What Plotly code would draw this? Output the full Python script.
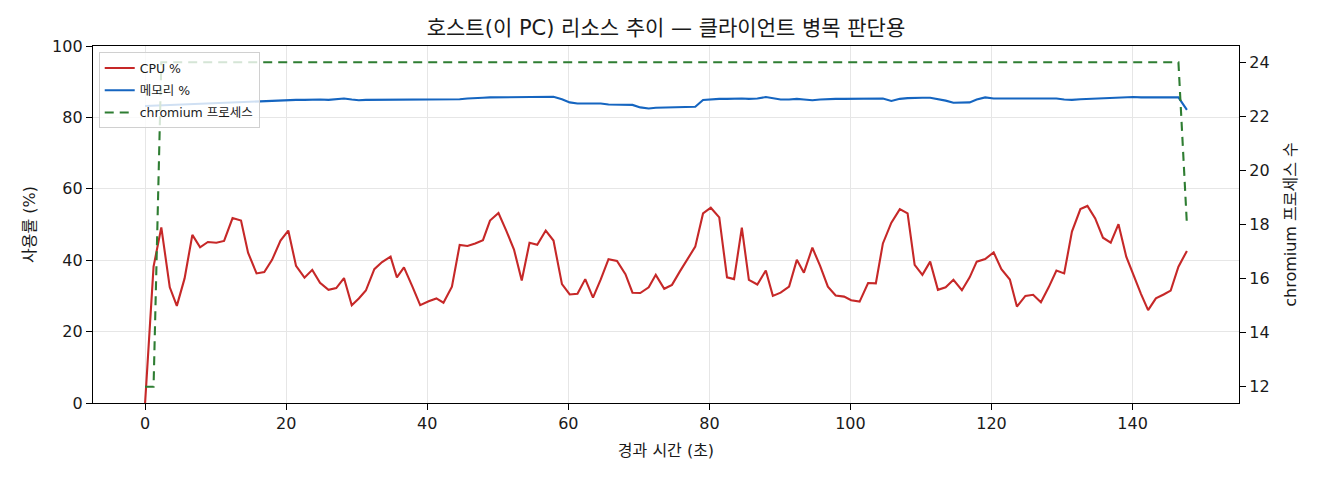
#block one imports
import plotly.graph_objects as go

#block two dados
tempo = [
    0.0, 1.2, 2.3, 3.5, 4.5, 5.6, 6.7, 7.8, 8.9, 10.1,
    11.2, 12.4, 13.6, 14.6, 15.8, 16.9, 18.0, 19.2, 20.3, 21.4,
    22.6, 23.7, 24.8, 26.0, 27.1, 28.2, 29.3, 30.3, 31.3, 32.5,
    33.6, 34.8, 35.7, 36.7, 37.9, 39.0, 40.2, 41.3, 42.3, 43.5,
    44.6, 45.7, 46.8, 47.9, 48.9, 50.1, 51.2, 52.3, 53.4, 54.5,
    55.6, 56.8, 57.9, 59.1, 60.2, 61.3, 62.4, 63.5, 64.6, 65.7,
    66.9, 68.1, 69.1, 70.2, 71.4, 72.4, 73.6, 74.7, 75.8, 76.8,
    78.0, 79.1, 80.2, 81.4, 82.5, 83.5, 84.6, 85.6, 86.8, 88.0,
    89.0, 90.1, 91.3, 92.4, 93.4, 94.6, 95.7, 96.8, 97.9, 99.1,
    100.1, 101.3, 102.5, 103.6, 104.6, 105.8, 107.0, 108.1, 109.1, 110.2,
    111.3, 112.4, 113.5, 114.6, 115.8, 116.9, 117.9, 119.1, 120.3, 121.4,
    122.6, 123.6, 124.8, 125.9, 127.0, 128.1, 129.2, 130.3, 131.4, 132.6,
    133.6, 134.7, 135.8, 136.9, 138.0, 139.1, 140.1, 141.2, 142.2, 143.3,
    144.4, 145.4, 146.5, 147.7,
]

cpu = [
    0.0, 38.2, 49.2, 32.4, 27.2, 34.9, 47.1, 43.6, 45.1, 44.9,
    45.4, 51.8, 51.1, 42.1, 36.3, 36.7, 40.1, 45.5, 48.3, 38.4,
    35.1, 37.3, 33.7, 31.7, 32.2, 35.0, 27.4, 29.3, 31.5, 37.5,
    39.5, 41.0, 35.2, 38.0, 32.6, 27.4, 28.5, 29.3, 28.1, 32.6,
    44.3, 44.0, 44.7, 45.6, 51.1, 53.2, 48.3, 43.0, 34.3, 44.9,
    44.3, 48.3, 45.5, 33.3, 30.4, 30.6, 34.7, 29.5, 34.6, 40.3,
    39.8, 36.1, 30.9, 30.8, 32.4, 35.9, 32.0, 33.1, 36.8, 40.1,
    43.8, 53.1, 54.7, 52.0, 35.2, 34.7, 49.1, 34.5, 33.2, 37.1,
    30.0, 30.9, 32.6, 40.1, 36.5, 43.5, 38.4, 32.6, 30.1, 29.8,
    28.8, 28.4, 33.6, 33.5, 44.7, 50.5, 54.3, 53.1, 38.7, 35.9,
    39.6, 31.7, 32.4, 34.5, 31.6, 35.2, 39.6, 40.3, 42.2, 37.5,
    34.6, 27.0, 30.0, 30.3, 28.2, 32.4, 37.1, 36.3, 48.0, 54.3,
    55.2, 51.7, 46.3, 44.9, 50.1, 41.0, 35.9, 30.5, 26.0, 29.3,
    30.4, 31.5, 38.2, 42.6,
]

memoria = [
    83.2, 83.3, 83.4, 83.5, 83.6, 83.7, 83.8, 83.9, 84.0, 84.1,
    84.2, 84.3, 84.4, 84.4, 84.5, 84.5, 84.7, 84.8, 84.9, 84.9,
    84.9, 85.0, 85.0, 84.9, 85.0, 85.3, 85.0, 84.8, 84.9, 84.9,
    85.0, 85.0, 85.0, 85.0, 85.0, 85.0, 85.0, 85.0, 85.0, 84.9,
    85.1, 85.3, 85.5, 85.5, 85.6, 85.6, 85.6, 85.6, 85.6, 85.6,
    85.6, 85.6, 85.8, 85.1, 84.2, 83.9, 83.9, 83.9, 83.9, 83.6,
    83.6, 83.5, 83.5, 82.8, 82.5, 82.7, 82.8, 82.8, 82.8, 82.9,
    83.0, 84.9, 85.1, 85.2, 85.2, 85.3, 85.3, 85.2, 85.3, 85.7,
    85.4, 85.0, 85.0, 85.2, 85.0, 84.8, 85.0, 85.2, 85.2, 85.2,
    85.2, 85.2, 85.2, 85.2, 85.3, 84.6, 85.2, 85.4, 85.5, 85.5,
    85.5, 85.2, 84.7, 84.1, 84.2, 84.2, 85.0, 85.6, 85.3, 85.3,
    85.3, 85.3, 85.1, 85.2, 85.2, 85.3, 85.3, 85.0, 84.9, 85.1,
    85.2, 85.3, 85.4, 85.5, 85.7, 85.8, 85.7, 85.6, 85.6, 85.5,
    85.6, 85.6, 85.6, 82.1,
]

chromium = [
    12, 12, 24, 24, 24, 24, 24, 24, 24, 24,
    24, 24, 24, 24, 24, 24, 24, 24, 24, 24,
    24, 24, 24, 24, 24, 24, 24, 24, 24, 24,
    24, 24, 24, 24, 24, 24, 24, 24, 24, 24,
    24, 24, 24, 24, 24, 24, 24, 24, 24, 24,
    24, 24, 24, 24, 24, 24, 24, 24, 24, 24,
    24, 24, 24, 24, 24, 24, 24, 24, 24, 24,
    24, 24, 24, 24, 24, 24, 24, 24, 24, 24,
    24, 24, 24, 24, 24, 24, 24, 24, 24, 24,
    24, 24, 24, 24, 24, 24, 24, 24, 24, 24,
    24, 24, 24, 24, 24, 24, 24, 24, 24, 24,
    24, 24, 24, 24, 24, 24, 24, 24, 24, 24,
    24, 24, 24, 24, 24, 24, 24, 24, 24, 24,
    24, 24, 24, 18,
]

x_ticks = [0, 20, 40, 60, 80, 100, 120, 140]
y_ticks = [0, 20, 40, 60, 80, 100]
y2_ticks = [12, 14, 16, 18, 20, 22, 24]

#block tree grafico
FONTE = "DejaVu Sans, Noto Sans CJK KR, sans-serif"
TXT = "#1a1a1a"

fig = go.Figure()

fig.add_trace(go.Scatter(
    x=tempo, y=cpu, name="CPU %", mode="lines", legendgroup="a",
    line=dict(color="#c62828", width=2.1),
))
fig.add_trace(go.Scatter(
    x=tempo, y=memoria, name="메모리 %", mode="lines", legendgroup="b",
    line=dict(color="#1565c0", width=2.1),
))
fig.add_trace(go.Scatter(
    x=tempo, y=chromium, name="chromium 프로세스", mode="lines", legendgroup="c",
    yaxis="y2", line=dict(color="#2e7d32", width=2.1, dash="9px,6px"),
))

# margens de 5% como no matplotlib
span = max(tempo) - min(tempo)
x_range = [min(tempo) - 0.05 * span, max(tempo) + 0.05 * span]
span2 = max(chromium) - min(chromium)
y2_range = [min(chromium) - 0.05 * span2, max(chromium) + 0.05 * span2]

# a pagina tem 8px de margem no body, entao desconto aqui
fig.update_layout(
    width=1320,
    height=480,
    paper_bgcolor="white",
    plot_bgcolor="white",
    font=dict(family=FONTE, size=16, color=TXT),
    margin=dict(l=85, r=89, t=38, b=85, autoexpand=False),
    title=dict(
        text="호스트(이 PC) 리소스 추이 — 클라이언트 병목 판단용",
        x=0.5, xref="paper", xanchor="center",
        y=1 - 20 / 480, yref="container", yanchor="middle",
        font=dict(size=21, color=TXT),
    ),
    xaxis=dict(
        range=x_range, tickvals=x_ticks, automargin=False,
        showgrid=True, gridcolor="#e6e6e6", gridwidth=1,
        showline=True, linecolor="black", linewidth=1.3, mirror=True,
        ticks="outside", ticklen=6, tickcolor="black",
        zeroline=False,
        title=dict(text="경과 시간 (초)", standoff=12, font=dict(size=16)),
    ),
    yaxis=dict(
        range=[0, 100], tickvals=y_ticks, automargin=False,
        showgrid=True, gridcolor="#e6e6e6", gridwidth=1,
        showline=True, linecolor="black", linewidth=1.3,
        ticks="outside", ticklen=6, tickcolor="black",
        zeroline=False,
        title=dict(text="사용률 (%)", standoff=12, font=dict(size=16)),
    ),
    yaxis2=dict(
        overlaying="y", side="right",
        range=y2_range, tickvals=y2_ticks, automargin=False,
        showgrid=False, zeroline=False,
        showline=True, linecolor="black", linewidth=1.3,
        ticks="outside", ticklen=6, tickcolor="black",
        title=dict(text="chromium 프로세스 수", standoff=16, font=dict(size=16)),
    ),
    legend=dict(
        x=0.005, y=0.982, xanchor="left", yanchor="top",
        bgcolor="rgba(255,255,255,0.8)", bordercolor="#d0d0d0", borderwidth=1,
        font=dict(size=12.5, color=TXT),
        tracegroupgap=3, itemwidth=30,
    ),
    showlegend=True,
)

fig.write_html("out.html")
